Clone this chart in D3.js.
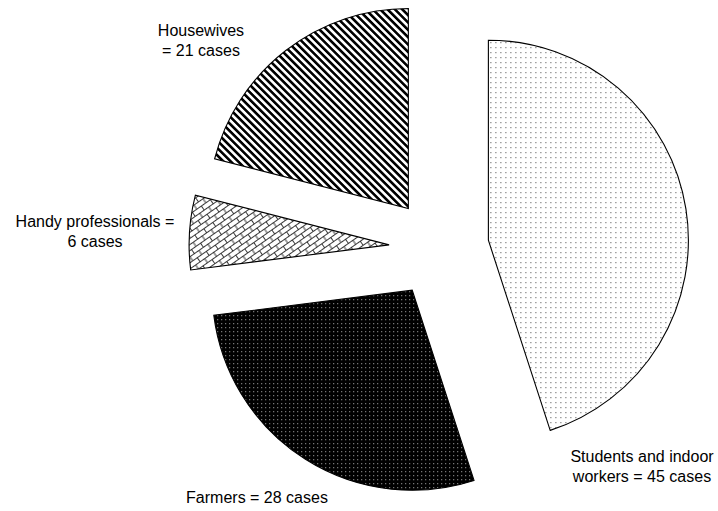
<!DOCTYPE html>
<html>
<head>
<meta charset="utf-8">
<script src="https://cdn.jsdelivr.net/npm/d3@7"></script>
<style>
  html, body { margin: 0; padding: 0; background: #fff; }
  svg { display: block; }
  text { font-family: "Liberation Sans", Arial, sans-serif; font-size: 16px; fill: #000; }
</style>
</head>
<body>
<svg id="chart" width="718" height="511"></svg>
<script>
// ---- data ----
const categories = ["Students and indoor workers", "Farmers", "Handy professionals", "Housewives"];
const values = [45, 28, 6, 21];
const labelLines = [
  ["Students and indoor", "workers = 45 cases"],
  ["Farmers = 28 cases"],
  ["Handy professionals =", "6 cases"],
  ["Housewives", "= 21 cases"]
];
const patternIds = ["dotsLight", "dotsDark", "bricks", "stripes"];

// ---- layout ----
const W = 718, H = 511;
const cx = 439, cy = 248, R = 200, explode = 50;
const labelAnchors = [[642, 456], [257, 497], [95, 221], [201, 30]];
const lineGap = 20;

const svg = d3.select("#chart");
const defs = svg.append("defs");

// light dots (Students)
let p = defs.append("pattern").attr("id", "dotsLight").attr("patternUnits", "userSpaceOnUse")
  .attr("width", 5).attr("height", 5);
p.append("rect").attr("width", 5).attr("height", 5).attr("fill", "#fff");
p.append("rect").attr("x", 2).attr("y", 2).attr("width", 1).attr("height", 1).attr("fill", "#444");

// dark dots (Farmers)
p = defs.append("pattern").attr("id", "dotsDark").attr("patternUnits", "userSpaceOnUse")
  .attr("width", 4).attr("height", 4);
p.append("rect").attr("width", 4).attr("height", 4).attr("fill", "#000");
p.append("rect").attr("x", 1).attr("y", 1).attr("width", 1).attr("height", 1).attr("fill", "#bbb");

// bricks (Handy professionals)
p = defs.append("pattern").attr("id", "bricks").attr("patternUnits", "userSpaceOnUse")
  .attr("width", 11).attr("height", 10).attr("patternTransform", "rotate(-35)");
p.append("rect").attr("width", 11).attr("height", 10).attr("fill", "#fff");
p.append("path")
  .attr("d", "M0,0.5 H11 M0,5.5 H11 M0.5,0.5 V5.5 M6,5.5 V10")
  .attr("stroke", "#222").attr("stroke-width", 0.9).attr("fill", "none");

// diagonal stripes (Housewives)
p = defs.append("pattern").attr("id", "stripes").attr("patternUnits", "userSpaceOnUse")
  .attr("width", 5.2).attr("height", 10).attr("patternTransform", "rotate(-45)");
p.append("rect").attr("width", 5.2).attr("height", 10).attr("fill", "#fff");
p.append("rect").attr("width", 2.6).attr("height", 10).attr("fill", "#000");

const pie = d3.pie().sort(null).value(d => d.value).startAngle(0).endAngle(2 * Math.PI);
const data = categories.map((c, i) => ({ name: c, value: values[i], i }));
const arcs = pie(data);
const arc = d3.arc().innerRadius(0).outerRadius(R);

const g = svg.append("g").attr("transform", `translate(${cx},${cy})`);
g.selectAll("path.slice").data(arcs).join("path")
  .attr("class", "slice")
  .attr("transform", d => {
    const a = (d.startAngle + d.endAngle) / 2;
    return `translate(${explode * Math.sin(a)},${-explode * Math.cos(a)})`;
  })
  .attr("d", arc)
  .attr("fill", d => `url(#${patternIds[d.data.i]})`)
  .attr("stroke", "#000")
  .attr("stroke-width", 1.1)
  .attr("stroke-linejoin", "miter");

// labels
const lg = svg.append("g");
labelLines.forEach((lines, i) => {
  const t = lg.append("text").attr("text-anchor", "middle")
    .attr("x", labelAnchors[i][0]).attr("y", labelAnchors[i][1])
    .attr("dominant-baseline", "central");
  lines.forEach((ln, k) => {
    t.append("tspan").attr("x", labelAnchors[i][0]).attr("dy", k === 0 ? 0 : lineGap).text(ln);
  });
});
</script>
</body>
</html>
